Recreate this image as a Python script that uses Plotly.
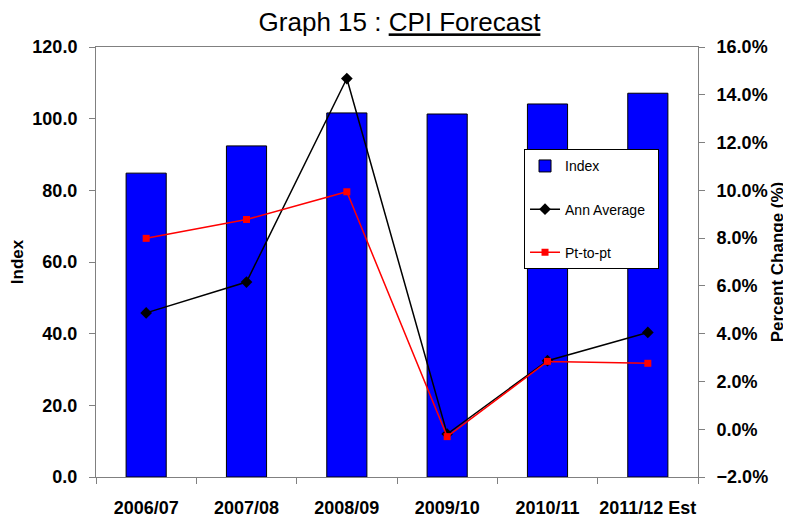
import plotly.graph_objects as go

years = ["2006/07", "2007/08", "2008/09", "2009/10", "2010/11", "2011/12 Est"]
index_vals = [84.8, 92.4, 101.6, 101.3, 104.1, 107.1]
ann_average = [4.87, 6.16, 14.68, -0.2, 2.87, 4.05]
pt_to_pt = [7.99, 8.78, 9.94, -0.31, 2.84, 2.76]

fig = go.Figure()

fig.add_trace(go.Bar(
    x=years, y=index_vals, name="Index",
    marker=dict(color="#0000FF", line=dict(color="black", width=1)),
    legendgroup="a",
))
fig.add_trace(go.Scatter(
    x=years, y=ann_average, name="Ann Average\u00a0\u00a0", yaxis="y2",
    mode="lines+markers",
    line=dict(color="black", width=1.5),
    marker=dict(symbol="diamond", size=9, color="black"),
    legendgroup="b",
))
fig.add_trace(go.Scatter(
    x=years, y=pt_to_pt, name="Pt-to-pt", yaxis="y2",
    mode="lines+markers",
    line=dict(color="red", width=1.5),
    marker=dict(symbol="square", size=7, color="red"),
    legendgroup="c",
))

axis_font = dict(family="Liberation Sans, Arial", size=18, color="black", weight="bold")
title_font = dict(family="Liberation Sans, Arial", size=17, color="black", weight="bold")

# page body has an 8px margin, so the figure is a bit smaller than the window
fig.update_layout(
    width=783, height=509,
    margin=dict(l=88, r=93, t=39, b=40, autoexpand=False),
    plot_bgcolor="white", paper_bgcolor="white",
    font=dict(family="Liberation Sans, Arial", color="black"),
    title=dict(
        text="Graph 15 : <u>CPI Forecast</u>",
        x=0.5, xanchor="center", y=0.972, yanchor="middle",
        font=dict(size=26, color="black"),
        automargin=False,
    ),
    bargap=0.6,
    showlegend=True,
    legend=dict(
        x=0.711, y=0.762, xanchor="left", yanchor="top",
        bgcolor="white", bordercolor="black", borderwidth=1,
        font=dict(size=14, color="black"),
        traceorder="grouped", tracegroupgap=22,
    ),
    xaxis=dict(
        type="category", tickson="boundaries", tickangle=0,
        ticks="outside", ticklen=6, tickcolor="#808080",
        showline=True, linecolor="#808080", linewidth=1, mirror=True,
        tickfont=axis_font, ticklabelstandoff=14,
        showgrid=False, automargin=False,
    ),
    yaxis=dict(
        range=[0, 120], dtick=20, tickformat=".1f",
        ticks="outside", ticklen=6, tickcolor="#808080",
        showline=True, linecolor="#808080", linewidth=1,
        tickfont=axis_font, ticklabelstandoff=8,
        showgrid=False, zeroline=False, automargin=False,
        title=dict(text="Index", font=title_font, standoff=4),
    ),
    yaxis2=dict(
        overlaying="y", side="right",
        range=[-2, 16], dtick=2, tickformat=".1f", ticksuffix="%",
        ticks="outside", ticklen=6, tickcolor="#808080",
        showline=True, linecolor="#808080", linewidth=1,
        tickfont=axis_font, ticklabelstandoff=8,
        showgrid=False, zeroline=False, automargin=False,
        title=dict(text="Percent Change (%)", font=title_font, standoff=0),
    ),
)

fig.write_html("out.html")
